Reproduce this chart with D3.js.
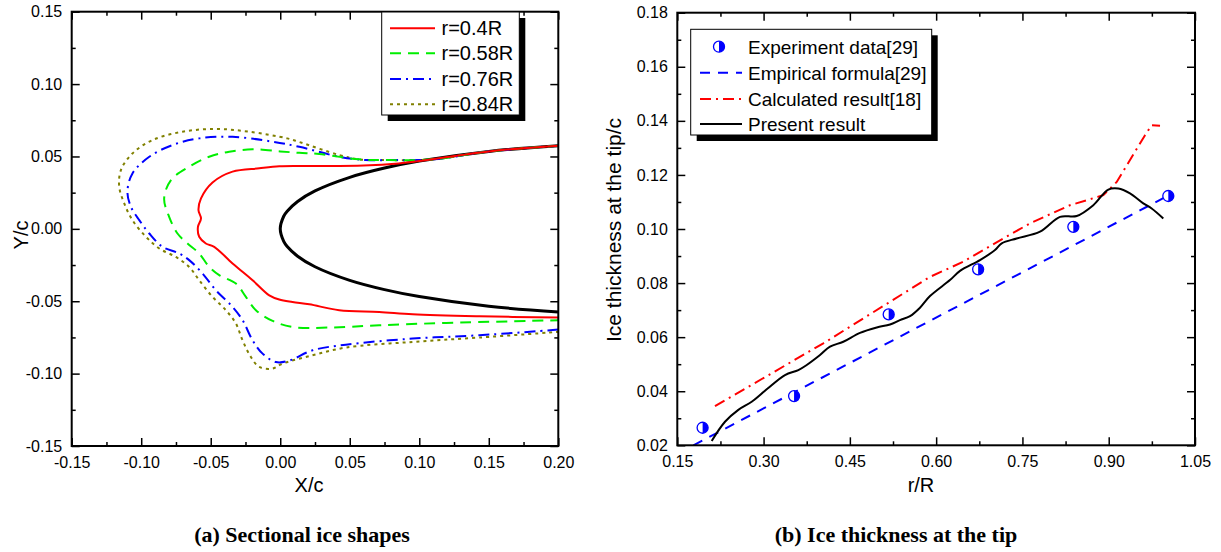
<!DOCTYPE html>
<html>
<head>
<meta charset="utf-8">
<script src="https://cdn.jsdelivr.net/npm/d3@7"></script>
<style>
  body { margin: 0; background: #fff; }
  svg { display: block; }
  text { font-family: "Liberation Sans", Arial, sans-serif; fill: #000; }
</style>
</head>
<body>
<div id="chart"></div>
<script>
// ---- data (a) sectional ice shapes ----
var foilX = [0.2, 0.15, 0.1, 0.075, 0.05, 0.025, 0.0125, 0.005, 0.0025, 0, 0.0025, 0.005, 0.0125, 0.025, 0.05, 0.075, 0.1, 0.15, 0.2];
var foilY = [0.0574, 0.0535, 0.0468, 0.042, 0.0356, 0.0262, 0.0189, 0.0122, 0.0087, 0, -0.0087, -0.0122, -0.0189, -0.0262, -0.0356, -0.042, -0.0468, -0.0535, -0.0574];

var r40X = [0.2, 0.15, 0.1, 0.085, 0.06, 0.03, 0.0137, -0.0007, -0.0151, -0.0343, -0.0487, -0.057, -0.0588, -0.057, -0.0592, -0.0583, -0.0535, -0.0475, -0.0343, -0.0199, -0.0079, -0.0007, 0.0088, 0.0209, 0.0424, 0.0712, 0.0952, 0.1432, 0.2];
var r40Y = [0.0574, 0.0535, 0.0468, 0.0452, 0.0438, 0.0434, 0.0434, 0.0432, 0.0418, 0.0395, 0.032, 0.021, 0.0129, 0.0072, 0.0014, -0.0055, -0.0101, -0.0124, -0.0239, -0.0355, -0.0459, -0.0488, -0.0505, -0.0521, -0.0562, -0.0574, -0.059, -0.0604, -0.0613];

var r58X = [0.2, 0.15, 0.11, 0.0784, 0.0568, 0.028, 0.0137, 0.0, -0.0199, -0.0367, -0.0511, -0.0655, -0.0786, -0.0835, -0.0799, -0.0739, -0.0667, -0.0583, -0.0511, -0.0439, -0.0319, -0.0247, -0.0175, -0.0055, 0.0088, 0.0353, 0.0712, 0.1192, 0.2];
var r58Y = [0.0574, 0.0535, 0.048, 0.0475, 0.048, 0.0517, 0.0525, 0.0535, 0.0549, 0.0533, 0.0498, 0.0429, 0.0337, 0.021, 0.0083, -0.0032, -0.0101, -0.017, -0.0263, -0.032, -0.0378, -0.047, -0.0562, -0.0636, -0.0678, -0.0682, -0.0666, -0.065, -0.0631];

var r76X = [0.2, 0.15, 0.11, 0.078, 0.0616, 0.0424, 0.0137, -0.0055, -0.0343, -0.0583, -0.0775, -0.0942, -0.1063, -0.1099, -0.1074, -0.1014, -0.0942, -0.0847, -0.0727, -0.0655, -0.0559, -0.0463, -0.0343, -0.0271, -0.0199, -0.0127, -0.0031, 0.0065, 0.0232, 0.0472, 0.0952, 0.1432, 0.2];
var r76Y = [0.0574, 0.0535, 0.048, 0.0475, 0.0475, 0.0498, 0.0567, 0.0602, 0.0636, 0.0625, 0.0579, 0.0498, 0.0383, 0.0256, 0.0152, 0.006, -0.0032, -0.0124, -0.017, -0.0216, -0.0308, -0.0424, -0.0539, -0.0631, -0.077, -0.0862, -0.092, -0.091, -0.0839, -0.08, -0.0758, -0.0735, -0.0696];

var r84X = [0.2, 0.15, 0.11, 0.078, 0.057, 0.0424, 0.0137, 0.005, -0.0223, -0.0463, -0.0703, -0.0919, -0.1063, -0.1146, -0.1158, -0.1122, -0.1063, -0.0966, -0.087, -0.0751, -0.0655, -0.0583, -0.0487, -0.0391, -0.0319, -0.0271, -0.0211, -0.0151, -0.0055, 0.0017, 0.0232, 0.0472, 0.0952, 0.1432, 0.2];
var r84Y = [0.0574, 0.0535, 0.048, 0.0475, 0.048, 0.051, 0.06, 0.0625, 0.0671, 0.069, 0.0671, 0.0613, 0.0521, 0.0406, 0.029, 0.0176, 0.006, -0.0055, -0.0136, -0.0194, -0.0263, -0.0355, -0.047, -0.0562, -0.0654, -0.077, -0.0885, -0.0954, -0.0965, -0.0931, -0.0873, -0.082, -0.0781, -0.0751, -0.0712];

var shapeNames = ["r=0.4R", "r=0.58R", "r=0.76R", "r=0.84R"];
var xTicksA = [-0.15, -0.10, -0.05, 0.00, 0.05, 0.10, 0.15, 0.20];
var yTicksA = [-0.15, -0.10, -0.05, 0.00, 0.05, 0.10, 0.15];

// ---- data (b) ice thickness at the tip ----
var expX = [0.194, 0.353, 0.5175, 0.673, 0.8385, 1.0036];
var expY = [0.0265, 0.0382, 0.0684, 0.0851, 0.1008, 0.1122];
var empX = [0.178, 1.0];
var empY = [0.02, 0.112];
var calcX = [0.2155, 0.4038, 0.5893, 0.6472, 0.7167, 0.7632, 0.8327, 0.8906, 0.9139, 0.937, 0.9631, 0.9747, 0.9892];
var calcY = [0.0345, 0.0577, 0.0823, 0.0879, 0.0965, 0.1021, 0.1088, 0.1125, 0.1174, 0.1255, 0.1347, 0.1384, 0.1382];
var presX = [0.2098, 0.2329, 0.2561, 0.2793, 0.3054, 0.3372, 0.3604, 0.375, 0.3981, 0.4155, 0.4386, 0.4676, 0.4967, 0.5198, 0.537, 0.5546, 0.5719, 0.5893, 0.624, 0.6415, 0.6762, 0.7023, 0.714, 0.74, 0.7806, 0.8154, 0.8444, 0.8732, 0.8993, 0.9167, 0.937, 0.9601, 0.9747, 0.9949];
var presY = [0.0216, 0.0287, 0.0331, 0.0361, 0.0407, 0.046, 0.0478, 0.0497, 0.0534, 0.0565, 0.0583, 0.0616, 0.0636, 0.0647, 0.0663, 0.0678, 0.0709, 0.0752, 0.0811, 0.0845, 0.0885, 0.0922, 0.0947, 0.0965, 0.099, 0.1045, 0.1048, 0.1088, 0.1146, 0.115, 0.1132, 0.1095, 0.1076, 0.1039];

var tipNames = ["Experiment data[29]", "Empirical formula[29]", "Calculated result[18]", "Present result"];
var xTicksB = [0.15, 0.30, 0.45, 0.60, 0.75, 0.90, 1.05];
var yTicksB = [0.02, 0.04, 0.06, 0.08, 0.10, 0.12, 0.14, 0.16, 0.18];

// ---- setup ----
var svg = d3.select('#chart').append('svg')
    .attr('width', 1221)
    .attr('height', 552);

function fmt2(d) {
    if (Math.abs(d) < 1e-9) return "0.00";
    return d.toFixed(2);
}

function pts(xs, ys) {
    return xs.map(function (v, i) { return [v, ys[i]]; });
}

// minor tick values halfway between the majors
function minors(t) {
    var m = [];
    for (var i = 0; i < t.length - 1; i++) m.push((t[i] + t[i + 1]) / 2);
    return m;
}

function frame(id, x, y, xt, yt) {
    var g = svg.append('g');
    var x0 = x.range()[0], x1 = x.range()[1];
    var y0 = y.range()[0], y1 = y.range()[1];

    svg.append('clipPath').attr('id', id)
        .append('rect')
        .attr('x', x0).attr('y', y1)
        .attr('width', x1 - x0).attr('height', y0 - y1);

    function put(axis, tr) {
        var a = g.append('g').attr('transform', tr).call(axis);
        a.select('.domain').remove();
        a.selectAll('line').attr('stroke', '#000').attr('stroke-width', 1.5);
        a.selectAll('text').style('font-size', '16px').attr('fill', '#000')
            .style('font-family', '"Liberation Sans", Arial, sans-serif');
        return a;
    }
    // bottom
    put(d3.axisBottom(x).tickValues(xt).tickFormat(fmt2).tickSizeInner(-8).tickSizeOuter(0).tickPadding(10.5), 'translate(0,' + y0 + ')');
    put(d3.axisBottom(x).tickValues(minors(xt)).tickFormat('').tickSizeInner(-4).tickSizeOuter(0), 'translate(0,' + y0 + ')');
    // left
    put(d3.axisLeft(y).tickValues(yt).tickFormat(fmt2).tickSizeInner(-8).tickSizeOuter(0).tickPadding(9.5), 'translate(' + x0 + ',0)');
    put(d3.axisLeft(y).tickValues(minors(yt)).tickFormat('').tickSizeInner(-4).tickSizeOuter(0), 'translate(' + x0 + ',0)');
    // top and right, mirrored ticks only
    put(d3.axisTop(x).tickValues(xt).tickFormat('').tickSizeInner(-8).tickSizeOuter(0), 'translate(0,' + y1 + ')');
    put(d3.axisTop(x).tickValues(minors(xt)).tickFormat('').tickSizeInner(-4).tickSizeOuter(0), 'translate(0,' + y1 + ')');
    put(d3.axisRight(y).tickValues(yt).tickFormat('').tickSizeInner(-8).tickSizeOuter(0), 'translate(' + x1 + ',0)');
    put(d3.axisRight(y).tickValues(minors(yt)).tickFormat('').tickSizeInner(-4).tickSizeOuter(0), 'translate(' + x1 + ',0)');

    g.append('rect')
        .attr('x', x0).attr('y', y1)
        .attr('width', x1 - x0).attr('height', y0 - y1)
        .attr('fill', 'none')
        .attr('stroke', '#000')
        .attr('stroke-width', 2);
}

function legendBox(bx, by, bw, bh) {
    svg.append('rect').attr('x', bx + 6).attr('y', by + 6).attr('width', bw).attr('height', bh).attr('fill', '#000');
    svg.append('rect').attr('x', bx).attr('y', by).attr('width', bw).attr('height', bh)
        .attr('fill', '#fff').attr('stroke', '#000').attr('stroke-width', 1);
}

// ---------------- (a) ----------------
var xA = d3.scaleLinear().domain([-0.15, 0.20]).range([71.7, 558.3]);
var yA = d3.scaleLinear().domain([-0.15, 0.15]).range([446, 11.7]);

var lineA = d3.line()
    .x(function (d) { return xA(d[0]); })
    .y(function (d) { return yA(d[1]); })
    .curve(d3.curveCatmullRom.alpha(0.5));

var shapes = [
    { name: shapeNames[0], data: pts(r40X, r40Y), color: '#ff0000', dash: null },
    { name: shapeNames[1], data: pts(r58X, r58Y), color: '#00ee00', dash: '11,7' },
    { name: shapeNames[2], data: pts(r76X, r76Y), color: '#0000ff', dash: '11,5,2,5' },
    { name: shapeNames[3], data: pts(r84X, r84Y), color: '#808000', dash: '3,4' }
];

var plotA = svg.append('g').attr('clip-path', 'url(#clipA)');

plotA.append('path')
    .datum(pts(foilX, foilY))
    .attr('d', lineA)
    .attr('fill', 'none')
    .attr('stroke', '#000')
    .attr('stroke-width', 3);

plotA.selectAll('path.ice')
    .data(shapes.slice().reverse())
    .enter()
    .append('path')
    .attr('class', 'ice')
    .attr('d', function (d) { return lineA(d.data); })
    .attr('fill', 'none')
    .attr('stroke', function (d) { return d.color; })
    .attr('stroke-width', 2)
    .attr('stroke-dasharray', function (d) { return d.dash; });

frame('clipA', xA, yA, xTicksA, yTicksA);

svg.append('text')
    .attr('x', 309).attr('y', 492)
    .attr('text-anchor', 'middle')
    .style('font-size', '20px')
    .text('X/c');

svg.append('text')
    .attr('transform', 'translate(28,235) rotate(-90)')
    .attr('text-anchor', 'middle')
    .style('font-size', '20px')
    .text('Y/c');

// legend (a)
legendBox(381.7, 12, 137.6, 103);
var rowsA = [28.3, 53.3, 79, 104.3];
shapes.forEach(function (s, i) {
    svg.append('line')
        .attr('x1', 390).attr('x2', 435)
        .attr('y1', rowsA[i]).attr('y2', rowsA[i])
        .attr('stroke', s.color)
        .attr('stroke-width', 2)
        .attr('stroke-dasharray', s.dash);
    svg.append('text')
        .attr('x', 441.5).attr('y', rowsA[i] + 7)
        .style('font-size', '20px')
        .text(s.name);
});

// ---------------- (b) ----------------
var xB = d3.scaleLinear().domain([0.15, 1.05]).range([677.3, 1195]);
var yB = d3.scaleLinear().domain([0.02, 0.18]).range([445.3, 12.7]);

var lineB = d3.line()
    .x(function (d) { return xB(d[0]); })
    .y(function (d) { return yB(d[1]); });

var plotB = svg.append('g').attr('clip-path', 'url(#clipB)');

plotB.append('path')
    .datum(pts(empX, empY))
    .attr('d', lineB)
    .attr('fill', 'none')
    .attr('stroke', '#0000ff')
    .attr('stroke-width', 2)
    .attr('stroke-dasharray', '10,8');

plotB.append('path')
    .datum(pts(calcX, calcY))
    .attr('d', lineB)
    .attr('fill', 'none')
    .attr('stroke', '#ff0000')
    .attr('stroke-width', 2)
    .attr('stroke-dasharray', '11,5,2,5');

plotB.append('path')
    .datum(pts(presX, presY))
    .attr('d', lineB.curve(d3.curveCatmullRom.alpha(0.5)))
    .attr('fill', 'none')
    .attr('stroke', '#000')
    .attr('stroke-width', 2);
lineB.curve(d3.curveLinear);

function halfDot(g, cx, cy, r) {
    g.append('circle')
        .attr('cx', cx).attr('cy', cy).attr('r', r)
        .attr('fill', '#fff')
        .attr('stroke', '#0000ff')
        .attr('stroke-width', 1.3);
    g.append('path')
        .attr('d', 'M' + cx + ',' + (cy - r) + ' A' + r + ',' + r + ' 0 0 1 ' + cx + ',' + (cy + r) + ' Z')
        .attr('fill', '#0000ff');
}

pts(expX, expY).forEach(function (d) {
    halfDot(svg, xB(d[0]), yB(d[1]), 5.5);
});

frame('clipB', xB, yB, xTicksB, yTicksB);

svg.append('text')
    .attr('x', 921).attr('y', 492)
    .attr('text-anchor', 'middle')
    .style('font-size', '20px')
    .text('r/R');

svg.append('text')
    .attr('transform', 'translate(621,230) rotate(-90)')
    .attr('text-anchor', 'middle')
    .style('font-size', '21px')
    .text('Ice thickness at the tip/c');

// legend (b)
legendBox(690.7, 29.3, 241, 105.7);
var rowsB = [46.7, 72.7, 99, 124];
halfDot(svg, 719, rowsB[0], 5.5);
var legB = [
    { color: '#0000ff', dash: '10,8' },
    { color: '#ff0000', dash: '11,5,2,5' },
    { color: '#000', dash: null }
];
legB.forEach(function (s, i) {
    svg.append('line')
        .attr('x1', 700).attr('x2', 742)
        .attr('y1', rowsB[i + 1]).attr('y2', rowsB[i + 1])
        .attr('stroke', s.color)
        .attr('stroke-width', 2)
        .attr('stroke-dasharray', s.dash);
});
tipNames.forEach(function (t, i) {
    svg.append('text')
        .attr('x', 748).attr('y', rowsB[i] + 7)
        .style('font-size', '19px')
        .text(t);
});

// captions
svg.append('text')
    .attr('x', 302).attr('y', 542)
    .attr('text-anchor', 'middle')
    .style('font-family', '"Liberation Serif", "Times New Roman", serif')
    .style('font-weight', 'bold')
    .style('font-size', '22px')
    .text('(a) Sectional ice shapes');

svg.append('text')
    .attr('x', 896).attr('y', 542)
    .attr('text-anchor', 'middle')
    .style('font-family', '"Liberation Serif", "Times New Roman", serif')
    .style('font-weight', 'bold')
    .style('font-size', '22px')
    .text('(b) Ice thickness at the tip');
</script>
</body>
</html>
